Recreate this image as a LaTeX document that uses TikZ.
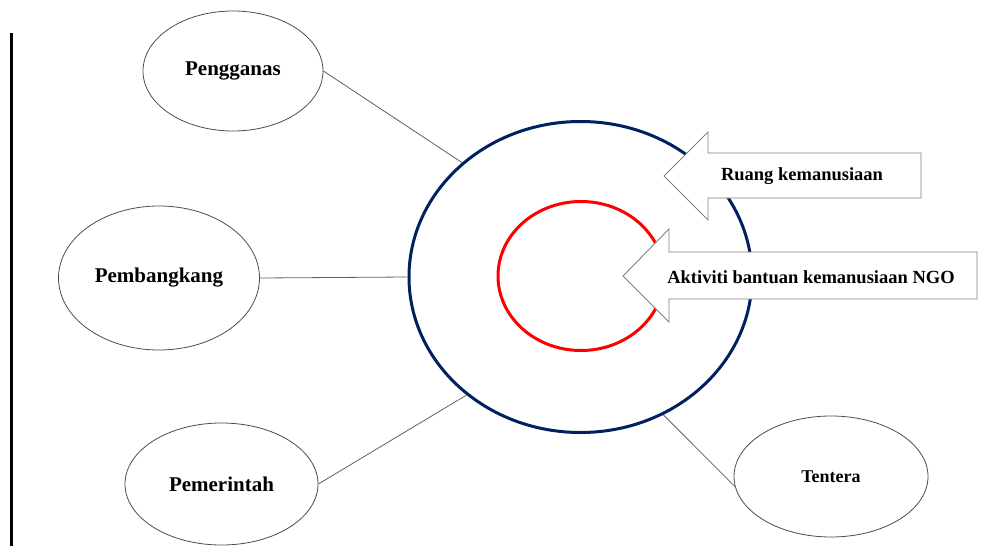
\documentclass[tikz,border=0pt]{standalone}
\usepackage{fontspec}
\setmainfont{Liberation Serif}
\usepackage{xcolor}
\usetikzlibrary{shapes.geometric}
\definecolor{ringblue}{RGB}{0,32,96}
\definecolor{linegray}{RGB}{95,95,95}

\begin{document}
\begin{tikzpicture}[x=1pt, y=-1pt,
        every node/.style={font=\bfseries\fontsize{21}{25}\selectfont},
        actor/.style={draw=black!70, ellipse, line width=0.8pt, inner sep=0pt},
        link/.style={draw=linegray, line width=0.8pt},
        blockarrow/.style={draw=gray, fill=white, line width=0.9pt, line join=miter},
        arrowtext/.style={font=\bfseries\fontsize{18.5}{22}\selectfont},
    ]
        \useasboundingbox (0,0) rectangle (993,546);

        % Left margin bar
        \coordinate (bartop) at (11.5,33);
        \coordinate (barbot) at (11.5,546);
        \draw[line width=2.7pt] (bartop) -- (barbot);

        % Actors
        \node[actor, minimum width=180pt, minimum height=120pt] (peng) at (233,71) {Pengganas};
        \node[actor, minimum width=201pt, minimum height=144pt] (pemb) at (159,278) {Pembangkang};
        \node[actor, minimum width=193pt, minimum height=122pt] (pemr) at (221.5,484) {Pemerintah};
        \node[actor, minimum width=194pt, minimum height=121pt,
              font=\bfseries\fontsize{18}{22}\selectfont] (tent) at (831,476.5) {Tentera};

        % Humanitarian space and NGO activity
        \node[draw=ringblue, line width=3pt, ellipse, inner sep=0pt,
              minimum width=343pt, minimum height=311pt] (ring) at (580.5,277) {};
        \node[draw=red, line width=3pt, ellipse, inner sep=0pt,
              minimum width=166pt, minimum height=149pt] (core) at (581,276) {};

        % Links
        \draw[link] (peng.east) -- (ring.136);
        \draw[link] (pemb.east) -- (ring.west);
        \draw[link] (pemr.east) -- (ring.226);
        \draw[link] (ring.301) -- (tent.186);

        % Block arrows
        \draw[blockarrow] (664,176) -- (708,132) -- (708,153) -- (921,153)
              -- (921,198) -- (708,198) -- (708,220) -- cycle;
        \draw[blockarrow] (623,276) -- (669,229) -- (669,252) -- (977,252)
              -- (977,299) -- (669,299) -- (669,322) -- cycle;

        % Labels
        \node[arrowtext] (ruang) at (802,176) {Ruang kemanusiaan};
        \node[arrowtext] (aktiviti) at (811,277) {Aktiviti bantuan kemanusiaan NGO};
    \end{tikzpicture}
\end{document}
